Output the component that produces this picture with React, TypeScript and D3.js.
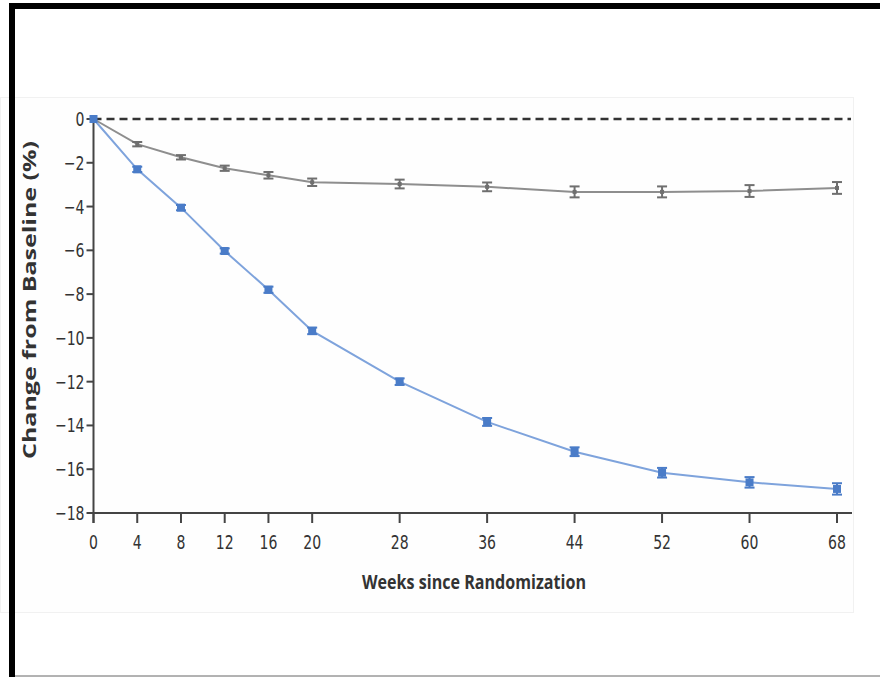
import React, { useEffect, useRef } from "react";
import * as d3 from "d3";

// Weeks at which measurements were taken
const weeks = [0, 4, 8, 12, 16, 20, 28, 36, 44, 52, 60, 68];

// Mean change from baseline (%)
const semaglutideMean = [0, -2.3, -4.05, -6.03, -7.8, -9.68, -12.0, -13.84, -15.2, -16.16, -16.6, -16.9];
const placeboMean = [0, -1.15, -1.75, -2.25, -2.57, -2.89, -2.97, -3.1, -3.33, -3.33, -3.29, -3.15];

// Half-width of error bars
const semaglutideErr = [0, 0.12, 0.12, 0.12, 0.14, 0.15, 0.15, 0.18, 0.2, 0.22, 0.24, 0.26];
const placeboErr = [0, 0.1, 0.1, 0.12, 0.15, 0.17, 0.2, 0.2, 0.25, 0.25, 0.27, 0.27];

// Tick values
const xTicks = [0, 4, 8, 12, 16, 20, 28, 36, 44, 52, 60, 68];
const yTicks = [0, -2, -4, -6, -8, -10, -12, -14, -16, -18];

const tickFont = "'Liberation Sans Narrow', 'DejaVu Sans Condensed', 'Open Sans', sans-serif";

const App = () => {
  const ref = useRef<SVGSVGElement>(null);

  useEffect(() => {
    const svg = d3.select(ref.current);
    svg.selectAll("*").remove();

    const width = 880;
    const height = 677;

    // Scales
    const x = d3.scaleLinear().domain([0, 68]).range([93.5, 837]);
    const y = d3.scaleLinear().domain([0, -18]).range([119, 513]);

    // Page background and frame
    svg.append("rect").attr("width", width).attr("height", height).attr("fill", "white");
    svg
      .append("rect")
      .attr("x", 0.5)
      .attr("y", 97.5)
      .attr("width", 853)
      .attr("height", 515)
      .attr("fill", "#fefefe")
      .attr("stroke", "#f1f1f1");
    svg.append("rect").attr("x", 9).attr("y", 3).attr("width", 871).attr("height", 6).attr("fill", "#000");
    svg.append("rect").attr("x", 9).attr("y", 3).attr("width", 6).attr("height", 674).attr("fill", "#000");
    svg.append("line").attr("x1", 15).attr("x2", 880).attr("y1", 676).attr("y2", 676).attr("stroke", "#666").attr("stroke-width", 1);

    const axisColor = "#444";

    // X axis
    svg
      .append("line")
      .attr("x1", x(0))
      .attr("x2", 852)
      .attr("y1", y(-18))
      .attr("y2", y(-18))
      .attr("stroke", axisColor)
      .attr("stroke-width", 2);

    const xt = svg.append("g").selectAll("g").data(xTicks).enter().append("g");
    xt.append("line")
      .attr("x1", (d) => x(d))
      .attr("x2", (d) => x(d))
      .attr("y1", y(-18))
      .attr("y2", y(-18) + 10)
      .attr("stroke", axisColor)
      .attr("stroke-width", 2);
    xt.append("text")
      .attr("transform", (d) => `translate(${x(d)},${y(-18) + 36}) scale(0.78,1)`)
      .attr("text-anchor", "middle")
      .attr("font-family", tickFont)
      .attr("font-size", 20)
      .attr("fill", "#333")
      .text((d) => d);

    // Y axis
    svg
      .append("line")
      .attr("x1", x(0))
      .attr("x2", x(0))
      .attr("y1", y(0) - 4)
      .attr("y2", y(-18) + 10)
      .attr("stroke", axisColor)
      .attr("stroke-width", 2);

    const yt = svg.append("g").selectAll("g").data(yTicks).enter().append("g");
    yt.append("line")
      .attr("x1", x(0) - 7)
      .attr("x2", x(0))
      .attr("y1", (d) => y(d))
      .attr("y2", (d) => y(d))
      .attr("stroke", axisColor)
      .attr("stroke-width", 2);
    yt.append("text")
      .attr("transform", (d) => `translate(${x(0) - 9},${y(d) + 7}) scale(0.78,1)`)
      .attr("text-anchor", "end")
      .attr("font-family", tickFont)
      .attr("font-size", 20)
      .attr("fill", "#333")
      .text((d) => (d === 0 ? "0" : "\u2212" + Math.abs(d)));

    // Reference line at zero
    svg
      .append("line")
      .attr("x1", x(0))
      .attr("x2", 851)
      .attr("y1", y(0))
      .attr("y2", y(0))
      .attr("stroke", "#333")
      .attr("stroke-width", 2.5)
      .attr("stroke-dasharray", "8,5");

    // Draw one series with error bars
    const drawSeries = (means, errs, lineColor, markColor, markSize, lineWidth) => {
      const data = weeks.map((w, i) => ({ w, m: means[i], e: errs[i] }));
      const line = d3
        .line<any>()
        .x((d) => x(d.w))
        .y((d) => y(d.m));

      svg
        .append("path")
        .datum(data)
        .attr("d", line)
        .attr("fill", "none")
        .attr("stroke", lineColor)
        .attr("stroke-width", lineWidth);

      const g = svg.append("g").selectAll("g").data(data).enter().append("g");
      g.append("line")
        .attr("x1", (d) => x(d.w))
        .attr("x2", (d) => x(d.w))
        .attr("y1", (d) => y(d.m + d.e))
        .attr("y2", (d) => y(d.m - d.e))
        .attr("stroke", markColor)
        .attr("stroke-width", 2);
      [1, -1].forEach((s) => {
        g.filter((d) => d.e > 0)
          .append("line")
          .attr("x1", (d) => x(d.w) - 5)
          .attr("x2", (d) => x(d.w) + 5)
          .attr("y1", (d) => y(d.m + s * d.e))
          .attr("y2", (d) => y(d.m + s * d.e))
          .attr("stroke", markColor)
          .attr("stroke-width", 2);
      });
      g.append("rect")
        .attr("x", (d) => x(d.w) - markSize / 2)
        .attr("y", (d) => y(d.m) - markSize / 2)
        .attr("width", markSize)
        .attr("height", markSize)
        .attr("fill", markColor);
    };

    drawSeries(placeboMean, placeboErr, "#8e8e8e", "#6f6f6f", 4, 2);
    drawSeries(semaglutideMean, semaglutideErr, "#7ea3dc", "#4a7cc8", 8, 2);

    // Axis titles
    svg
      .append("text")
      .attr("transform", `translate(36,${300}) rotate(-90)`)
      .attr("text-anchor", "middle")
      .attr("font-family", "'Open Sans', 'DejaVu Sans', sans-serif")
      .attr("font-weight", "bold")
      .attr("font-size", 18)
      .attr("textLength", 318)
      .attr("lengthAdjust", "spacingAndGlyphs")
      .attr("fill", "#333")
      .text("Change from Baseline (%)");

    svg
      .append("text")
      .attr("x", 474)
      .attr("y", 589)
      .attr("text-anchor", "middle")
      .attr("font-family", "'Open Sans', 'DejaVu Sans', sans-serif")
      .attr("font-weight", "bold")
      .attr("font-size", 20)
      .attr("textLength", 224)
      .attr("lengthAdjust", "spacingAndGlyphs")
      .attr("fill", "#333")
      .text("Weeks since Randomization");
  }, []);

  return (
    <svg
      ref={ref}
      width={880}
      height={677}
      style={{ position: "absolute", left: 0, top: 0, display: "block" }}
    />
  );
};

export default App;
